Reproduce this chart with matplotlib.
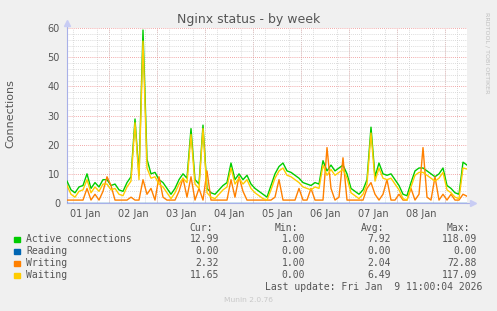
import matplotlib
matplotlib.use("Agg")
import matplotlib.pyplot as plt
import matplotlib.dates as mdates
from matplotlib.ticker import MultipleLocator
import pandas as pd

# 2-hourly averages, starting Jan 1 03:00
active = [7.5, 4.5, 3.5, 5.5, 6, 10, 5, 7, 5.5, 8,
          8, 6, 6.5, 4.5, 4, 7, 9, 28.8, 9.5, 59.3,
          15, 10, 10.5, 8, 7, 5, 3, 5, 8, 10,
          8.5, 25.5, 8, 6.5, 26.7, 5, 3.5, 3, 4.5, 6,
          7, 13.7, 8, 10, 8, 9.5, 6.5, 5, 4, 3,
          2, 6, 10, 12.5, 13.7, 11, 10.5, 9.5, 8.5, 7,
          6.5, 6, 7, 6.5, 14.5, 11, 13, 11, 12, 13,
          10, 5, 4, 3, 4.5, 8, 26, 9, 13.7, 10,
          9.5, 10, 8, 6, 3, 2.5, 7, 11, 12, 12,
          11, 10, 9, 10, 12, 6, 5, 3.5, 3, 14, 12.99]
reading = [0.0] * len(active)
writing = [1, 1, 1, 1, 1, 5, 1, 3, 1, 4,
           9, 6, 1, 1, 1, 1, 2, 1, 1, 8,
           3, 5, 1, 9, 2, 1, 1, 1, 4, 8.5,
           2, 9, 1, 5, 1, 11, 1, 1, 1, 1,
           1, 8, 2, 9, 4, 1, 1, 1, 1, 1,
           1, 1, 2, 8, 1, 1, 1, 1, 5, 1,
           1, 5, 1, 1, 1, 19, 5, 1, 2, 15.5,
           1, 1, 1, 1, 1, 5, 7, 3, 1, 3,
           8, 1, 1, 3, 1, 1, 5, 1, 3, 19,
           2, 1, 9, 1, 3, 1, 3, 1, 1, 3, 2.32]
waiting = [6, 3, 2, 4, 4.5, 8, 3.5, 5.5, 4, 6.5,
           6.5, 4.5, 5, 3, 2.5, 5.5, 7.5, 27.5, 8, 55.5,
           12, 8.5, 9, 6.5, 5.5, 3.5, 1.5, 3.5, 6.5, 8.5,
           7, 23.5, 6.5, 5, 25.5, 3.5, 2, 1.5, 3, 4.5,
           5.5, 12, 6.5, 8.5, 6.5, 8, 5, 3.5, 2.5, 1.5,
           1, 4.5, 8.5, 11, 12, 9.5, 9, 8, 7, 5.5,
           5, 4.5, 5.5, 5, 13, 9.5, 11.5, 9.5, 10.5, 11.5,
           8.5, 3.5, 2.5, 1.5, 3, 6.5, 24, 7.5, 12, 8.5,
           8, 8.5, 6.5, 4.5, 1.5, 1, 5.5, 9.5, 10.5, 10.5,
           9.5, 8.5, 7.5, 8.5, 10.5, 4.5, 3.5, 2, 1.5, 12, 11.65]

series_names = ["Active connections", "Reading", "Writing", "Waiting"]
series_colors = ["#00CC00", "#0066B3", "#FF8000", "#FFCC00"]
cur_vals = ["12.99", "0.00", "2.32", "11.65"]
min_vals = ["1.00", "0.00", "1.00", "0.00"]
avg_vals = ["7.92", "0.00", "2.04", "6.49"]
max_vals = ["118.09", "0.00", "72.88", "117.09"]

times = pd.date_range("2026-01-01 03:00", periods=len(active), freq="2h")

W, H = 497, 311
fig = plt.figure(figsize=(W / 100, H / 100), dpi=100, facecolor="#F0F0F0")
ax = fig.add_axes([67 / W, 1 - 203 / H, 400 / W, 175 / H], facecolor="white")

for vals, col in zip([active, reading, writing, waiting], series_colors):
    ax.plot(times, vals, color=col, lw=1.0, zorder=3)

ax.set_xlim(pd.Timestamp("2026-01-01 03:00"), pd.Timestamp("2026-01-09 11:00"))
ax.set_ylim(0, 60)

# grid
red = (0.93, 0.55, 0.55)
gray = "#CFCFCF"
ax.yaxis.set_major_locator(MultipleLocator(10))
ax.yaxis.set_minor_locator(MultipleLocator(2))
ax.grid(which="minor", axis="y", color=gray, ls=(0, (1, 1.5)), lw=0.6)
ax.grid(which="major", axis="y", color=red, ls=(0, (1, 1.5)), lw=0.6)
ax.xaxis.set_minor_locator(mdates.HourLocator(byhour=[0, 6, 12, 18]))
ax.grid(which="minor", axis="x", color=gray, ls=(0, (1, 1.5)), lw=0.6)
for d in pd.date_range("2026-01-02", "2026-01-09", freq="D"):
    ax.axvline(d, color=red, ls=(0, (1, 1.5)), lw=0.6, zorder=1)

ax.xaxis.set_major_locator(mdates.HourLocator(byhour=12))
ax.xaxis.set_major_formatter(mdates.DateFormatter("%d Jan"))

txt = "#555555"
ax.tick_params(axis="both", which="both", length=0, labelsize=7, labelcolor=txt)
ax.tick_params(axis="y", pad=5)
ax.tick_params(axis="x", pad=4)

for s in ["top", "right"]:
    ax.spines[s].set_visible(False)
axc = "#A8B0E8"
ax.spines["left"].set_color(axc)
ax.spines["bottom"].set_color(axc)
ax.spines["left"].set_linewidth(0.8)
ax.spines["bottom"].set_linewidth(0.8)
ax.plot([1.0, 1.015], [0, 0], color=axc, lw=0.8, transform=ax.transAxes, clip_on=False)
ax.plot([1.015], [0], marker=">", ms=4, color="#C8CCF4", transform=ax.transAxes, clip_on=False)
ax.plot([0, 0], [1.0, 1.03], color=axc, lw=0.8, transform=ax.transAxes, clip_on=False)
ax.plot([0], [1.03], marker="^", ms=4, color="#C8CCF4", transform=ax.transAxes, clip_on=False)

fig.text(0.5, 1 - 19 / H, "Nginx status - by week", ha="center", va="center",
         fontsize=9, color=txt)
fig.text(10 / W, 1 - 114 / H, "Connections", rotation=90, ha="center", va="center",
         fontsize=8, color=txt)
fig.text(487 / W, 1 - 53 / H, "RRDTOOL / TOBI OETIKER", rotation=270, ha="center",
         va="center", fontsize=4.6, color="#C0C0C0")

# legend table
mono = dict(family="DejaVu Sans Mono", fontsize=7, color=txt, va="center")
fig.text(213 / W, 1 - 228 / H, "Cur:", ha="right", **mono)
fig.text(298 / W, 1 - 228 / H, "Min:", ha="right", **mono)
fig.text(384 / W, 1 - 228 / H, "Avg:", ha="right", **mono)
fig.text(470 / W, 1 - 228 / H, "Max:", ha="right", **mono)
row_y = [239.5, 251.5, 263.5, 275.5]
for i, name in enumerate(series_names):
    y = 1 - row_y[i] / H
    fig.patches.append(plt.Rectangle((14 / W, y - 2.7 / H), 5.5 / W, 5.5 / H,
                                     transform=fig.transFigure, color=series_colors[i]))
    fig.text(26 / W, y, name, ha="left", **mono)
    fig.text(219 / W, y, cur_vals[i], ha="right", **mono)
    fig.text(305 / W, y, min_vals[i], ha="right", **mono)
    fig.text(391 / W, y, avg_vals[i], ha="right", **mono)
    fig.text(477 / W, y, max_vals[i], ha="right", **mono)
fig.text(482 / W, 1 - 287.5 / H, "Last update: Fri Jan  9 11:00:04 2026", ha="right", **mono)
fig.text(248 / W, 1 - 300 / H, "Munin 2.0.76", ha="center", va="center",
         fontsize=5.4, color="#C8C8C8")

fig.savefig("out.png", dpi=100, facecolor=fig.get_facecolor())
